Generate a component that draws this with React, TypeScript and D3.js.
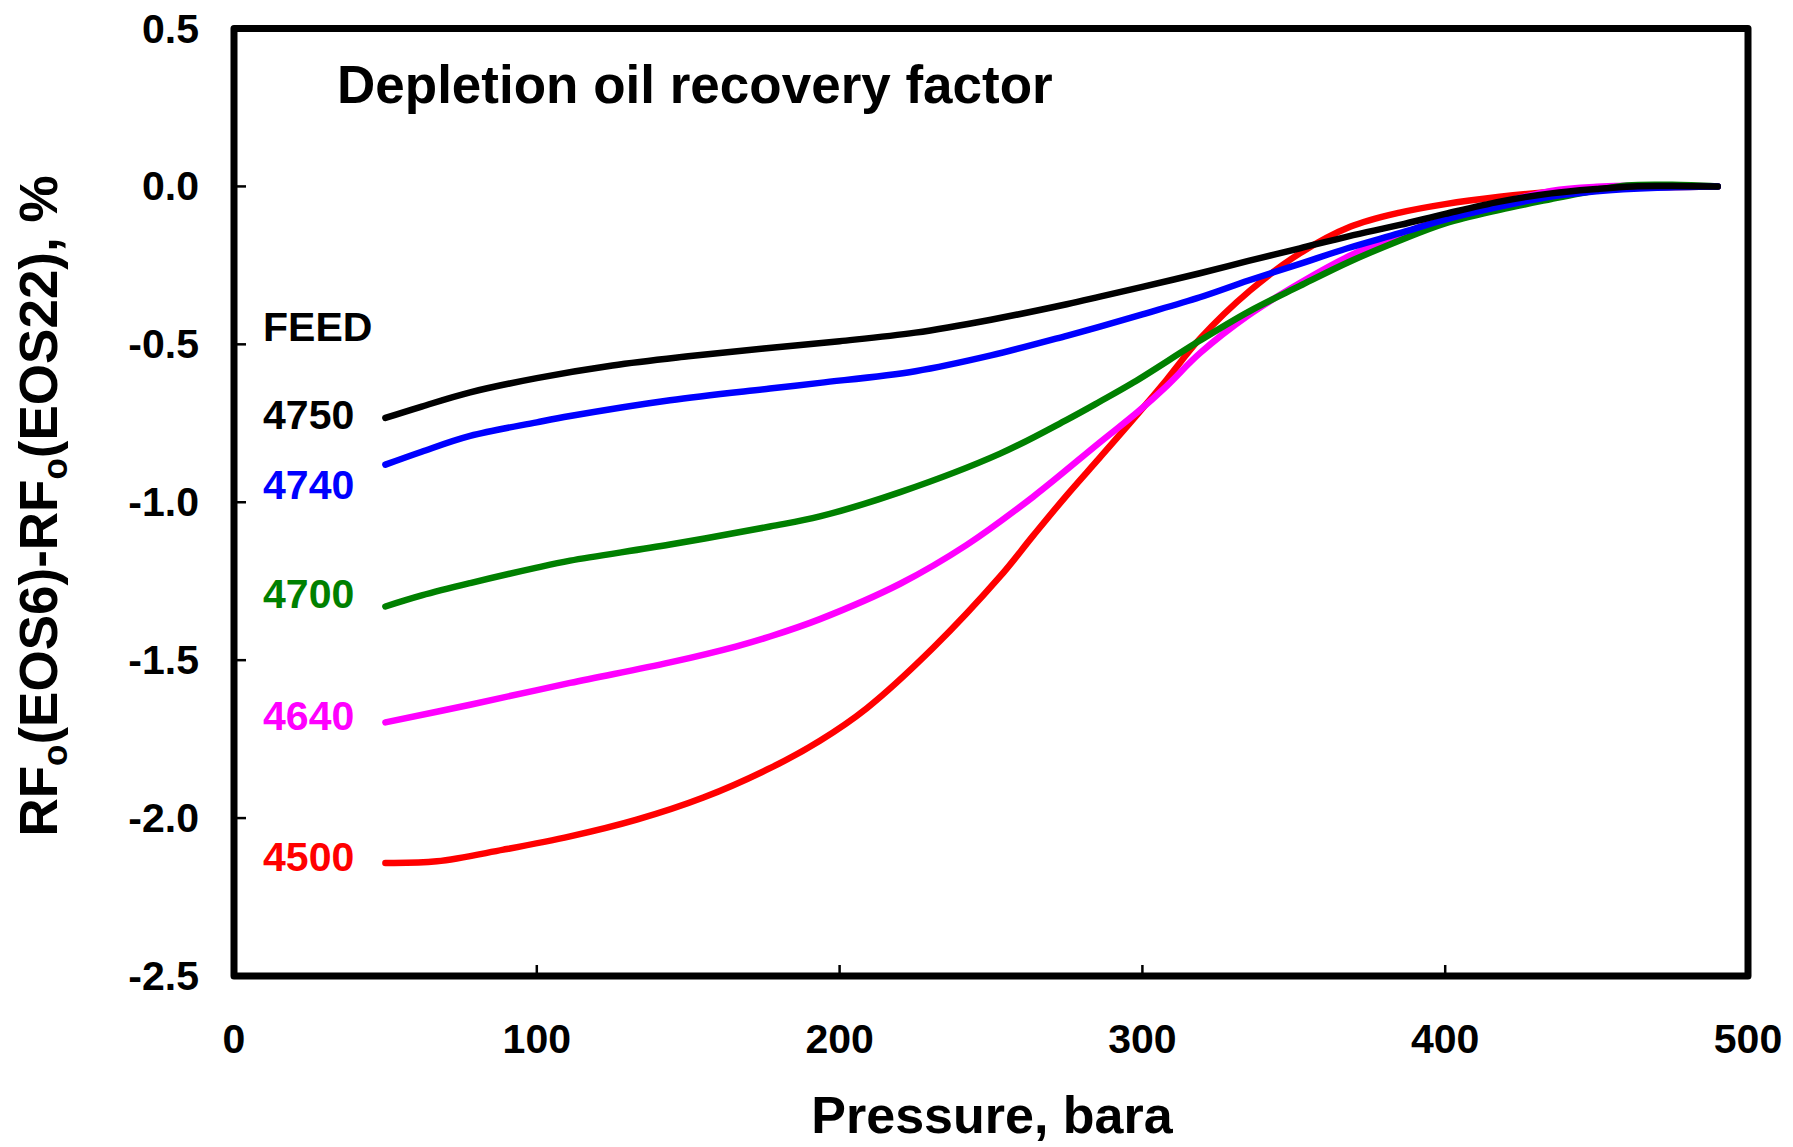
import React from "react";
import * as d3 from "d3";

// Pressure (bara) vs difference in depletion oil recovery factor, % — one series per feed
const feed4500: [number, number][] = [
  [50, -2.142], [67, -2.137], [89, -2.1], [111, -2.058], [133, -2.005], [155, -1.935],
  [177, -1.842], [193.5, -1.755], [209, -1.652], [231, -1.46], [253, -1.235], [264, -1.105],
  [275, -0.978], [286, -0.858], [298.7, -0.718], [308, -0.612], [319, -0.482], [335.5, -0.33],
  [352, -0.212], [368.6, -0.128], [385, -0.083], [400, -0.056], [418, -0.033], [435, -0.017],
  [450, -0.008], [470, -0.003], [490, 0],
];
const feed4640: [number, number][] = [
  [50, -1.697], [78, -1.641], [111, -1.572], [144, -1.507], [166, -1.456], [177, -1.425],
  [193.5, -1.37], [220, -1.258], [242, -1.135], [264, -0.982], [286, -0.81], [298.7, -0.712],
  [308, -0.632], [319, -0.528], [335, -0.408], [352, -0.306], [368, -0.222], [385, -0.153],
  [400, -0.1], [418, -0.053], [435, -0.014], [450, -0.001], [470, 0.003], [490, 0],
];
const feed4700: [number, number][] = [
  [50, -1.33], [62, -1.295], [78, -1.256], [100, -1.207], [111, -1.185], [144, -1.134],
  [177, -1.077], [193.5, -1.045], [220, -0.968], [253, -0.846], [275, -0.739], [286, -0.681],
  [297, -0.621], [319, -0.488], [335, -0.397], [352, -0.315], [368, -0.24], [385, -0.171],
  [400, -0.117], [418, -0.074], [435, -0.04], [450, -0.012], [460, 0.003], [475, 0.005], [490, 0],
];
const feed4740: [number, number][] = [
  [50, -0.881], [62, -0.84], [78, -0.79], [100, -0.747], [111, -0.727], [144, -0.677],
  [177, -0.64], [193.5, -0.622], [225, -0.585], [250, -0.535], [275, -0.473], [286, -0.444],
  [300, -0.405], [319, -0.351], [335, -0.298], [352, -0.245], [368, -0.195], [385, -0.148],
  [400, -0.105], [418, -0.064], [435, -0.032], [450, -0.015], [470, -0.004], [490, 0],
];
const feed4750: [number, number][] = [
  [50, -0.733], [62, -0.697], [78, -0.652], [100, -0.607], [125, -0.567], [150, -0.538],
  [175, -0.513], [200, -0.49], [225, -0.463], [250, -0.422], [275, -0.373], [286, -0.349],
  [300, -0.318], [319, -0.275], [335, -0.236], [352, -0.196], [368, -0.158], [385, -0.122],
  [400, -0.087], [418, -0.048], [435, -0.022], [450, -0.008], [462, 0.0], [475, 0.001], [490, 0],
];

const feedNames = ["4500", "4640", "4700", "4740", "4750"];
const feedColors = ["#ff0000", "#ff00ff", "#008000", "#0000ff", "#000000"];
const feedSeries = [feed4500, feed4640, feed4700, feed4740, feed4750];
// Where each feed name sits, in axis units (pressure, %)
const feedLabelX = 9.6;
const feedLabelY = [-2.169, -1.72, -1.334, -0.989, -0.767];
const feedHeaderY = -0.489;

const xTicks = [0, 100, 200, 300, 400, 500];
const yTicks = [0.5, 0.0, -0.5, -1.0, -1.5, -2.0, -2.5];

const W = 1793;
const H = 1147;
const FONT = "'Liberation Sans', Arial, Helvetica, sans-serif";

export default function App() {
  const x = d3.scaleLinear().domain([0, 500]).range([234, 1748]);
  const y = d3.scaleLinear().domain([-2.5, 0.5]).range([976, 28.5]);
  const line = d3
    .line<[number, number]>()
    .x((d) => x(d[0]))
    .y((d) => y(d[1]))
    .curve(d3.curveCatmullRom.alpha(0.5));

  const [x0, x1] = x.range();
  const [yb, yt] = y.range();

  return (
    <svg
      width={W}
      height={H}
      viewBox={`0 0 ${W} ${H}`}
      style={{ position: "absolute", left: 0, top: 0, background: "#fff" }}
      fontFamily={FONT}
      fontWeight="bold"
    >
      <rect x={0} y={0} width={W} height={H} fill="#fff" />

      {/* inward tick marks */}
      {yTicks.map((t) => (
        <line key={"yt" + t} x1={x0} x2={x0 + 12} y1={y(t)} y2={y(t)} stroke="#000" strokeWidth={2.5} />
      ))}
      {xTicks.map((t) => (
        <line key={"xt" + t} x1={x(t)} x2={x(t)} y1={yb} y2={yb - 11} stroke="#000" strokeWidth={2.5} />
      ))}

      {/* series, red first so black ends up on top */}
      {feedSeries.map((s, i) => (
        <path
          key={feedNames[i]}
          d={line(s) ?? ""}
          fill="none"
          stroke={feedColors[i]}
          strokeWidth={6.5}
          strokeLinecap="round"
          strokeLinejoin="round"
        />
      ))}

      {/* plot frame */}
      <rect
        x={x0}
        y={yt}
        width={x1 - x0}
        height={yb - yt}
        fill="none"
        stroke="#000"
        strokeWidth={7}
        strokeLinejoin="round"
      />

      {/* tick labels */}
      {yTicks.map((t) => (
        <text key={"yl" + t} x={199} y={y(t) + 14} fontSize={41} textAnchor="end" fill="#000">
          {t.toFixed(1)}
        </text>
      ))}
      {xTicks.map((t) => (
        <text key={"xl" + t} x={x(t)} y={1053} fontSize={41} textAnchor="middle" fill="#000">
          {t}
        </text>
      ))}

      {/* title inside the plot */}
      <text x={337} y={103} fontSize={53} fill="#000">
        Depletion oil recovery factor
      </text>

      {/* feed labels */}
      <text x={x(feedLabelX)} y={y(feedHeaderY)} fontSize={41} fill="#000">
        FEED
      </text>
      {feedNames.map((n, i) => (
        <text key={"fl" + n} x={x(feedLabelX)} y={y(feedLabelY[i])} fontSize={41} fill={feedColors[i]}>
          {n}
        </text>
      ))}

      {/* axis titles */}
      <text x={992} y={1133} fontSize={52} textAnchor="middle" fill="#000">
        Pressure, bara
      </text>
      <text transform="translate(57,506) rotate(-90)" fontSize={53} textAnchor="middle" fill="#000">
        RF
        <tspan fontSize={35} baselineShift="-10px">o</tspan>
        <tspan>(EOS6)-RF</tspan>
        <tspan fontSize={35} baselineShift="-10px">o</tspan>
        <tspan>(EOS22), %</tspan>
      </text>
    </svg>
  );
}
